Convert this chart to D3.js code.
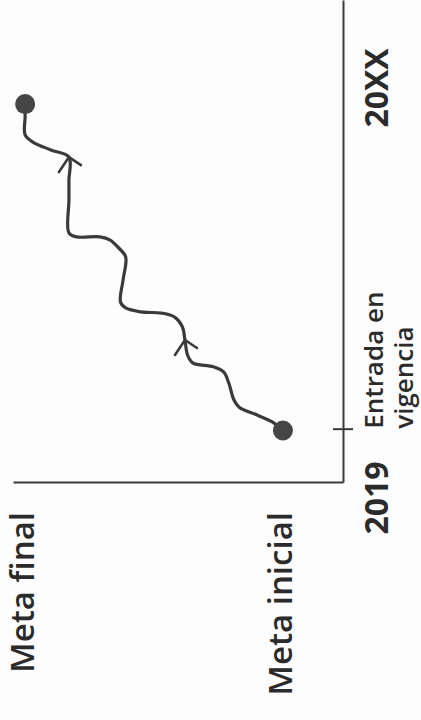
<!DOCTYPE html>
<html>
<head>
<meta charset="utf-8">
<script src="https://cdn.jsdelivr.net/npm/d3@7"></script>
<style>
  body { margin: 0; background: #fdfdfd; }
  text { font-family: "Open Sans", sans-serif; fill: #2b2b2b; }
</style>
</head>
<body>
<svg id="chart" width="421" height="720"></svg>
<script>
// trayectoria de la meta: periodo (eje tiempo) y avance (0 = meta inicial, 1 = meta final)
const periodo = [1.33, 1.54, 1.72, 1.92, 2.10, 2.53, 2.81, 2.94, 3.04, 3.24,
  3.62, 3.95, 4.20, 4.30, 4.33, 4.43, 4.58, 5.14, 5.72, 5.97,
  6.15, 6.23, 6.23, 6.33, 7.16, 7.67, 8.25, 8.43, 8.63, 8.81,
  9.27, 9.59];
const avance = [0, 0.04, 0.10, 0.17, 0.19, 0.21, 0.23, 0.27, 0.35, 0.37,
  0.38, 0.39, 0.42, 0.47, 0.55, 0.61, 0.63, 0.62, 0.61, 0.64,
  0.67, 0.71, 0.80, 0.83, 0.83, 0.83, 0.83, 0.90, 0.97, 1.0,
  1.0, 1.0];
const flechas = [10, 26]; // indices where the arrows sit

const tiempoLabels = ["2019", "20XX"];
const tiempoValores = [0, 10];
const metaLabels = ["Meta inicial", "Meta final"];
const metaValores = [0, 1];
const hitoLabel = ["Entrada en", "vigencia"];
const hitoValor = 1.35;

const W = 421, H = 720;
const svg = d3.select("#chart");

// the whole chart lies on its side: time runs upward, meta runs to the left
const g = svg.append("g").attr("transform", `translate(0,${H}) rotate(-90)`);

let x = d3.scaleLinear().domain([0, 12.2]).range([237, 719]);
let y = d3.scaleLinear().domain([-0.233, 1.047]).range([343, 13]);

const ink = "#3a3a3a";

// time axis with the "entrada en vigencia" tick
const xAxis = g.append("g")
  .attr("transform", "translate(0," + y.range()[0] + ")")
  .call(d3.axisBottom(x).tickValues([hitoValor]).tickFormat("").tickSizeOuter(0));
xAxis.selectAll(".tick line").attr("y1", -10).attr("y2", 10);

// meta axis
const yAxis = g.append("g")
  .attr("transform", "translate(" + x(0) + ",0)")
  .call(d3.axisLeft(y).tickValues([]).tickSizeOuter(0));

g.selectAll(".domain, .tick line").attr("stroke", ink).attr("stroke-width", 2);

// time labels
g.selectAll(".tlabel")
  .data(tiempoLabels)
  .enter()
  .append("text")
  .attr("class", "tlabel")
  .attr("x", (d, i) => x(tiempoValores[i]) - (i === 0 ? 15 : 0))
  .attr("y", 388)
  .attr("text-anchor", "middle")
  .style("font-size", "32px")
  .style("font-weight", 700)
  .text((d) => d);

// meta labels
g.selectAll(".mlabel")
  .data(metaLabels)
  .enter()
  .append("text")
  .attr("class", "mlabel")
  .attr("x", x(0) - 29)
  .attr("y", (d, i) => y(metaValores[i]) + 9)
  .attr("text-anchor", "end")
  .style("font-size", "33px")
  .style("font-weight", 600)
  .text((d) => d);

// hito label, two lines
g.selectAll(".hlabel")
  .data(hitoLabel)
  .enter()
  .append("text")
  .attr("class", "hlabel")
  .attr("x", x(hitoValor) + 1)
  .attr("y", (d, i) => 383 + i * 30)
  .style("font-size", "26px")
  .style("font-weight", 600)
  .text((d) => d);

// the path
const puntos = periodo.map((t, i) => ({ t: t, m: avance[i] }));
const line = d3.line()
  .x((d) => x(d.t))
  .y((d) => y(d.m))
  .curve(d3.curveCatmullRom.alpha(0.5));

g.append("path")
  .datum(puntos)
  .attr("d", line)
  .attr("fill", "none")
  .attr("stroke", ink)
  .attr("stroke-width", 3.2)
  .attr("stroke-linejoin", "round")
  .attr("stroke-linecap", "round");

// arrowheads pointing forward in time
g.selectAll(".flecha")
  .data(flechas)
  .enter()
  .append("path")
  .attr("class", "flecha")
  .attr("d", function (i) {
    const px = x(periodo[i]), py = y(avance[i]);
    return `M${px - 15},${py - 10}L${px},${py}L${px - 8},${py + 12}`;
  })
  .attr("fill", "none")
  .attr("stroke", ink)
  .attr("stroke-width", 2.6)
  .attr("stroke-linecap", "round");

// start and end dots
g.selectAll(".punto")
  .data([puntos[0], puntos[puntos.length - 1]])
  .enter()
  .append("circle")
  .attr("class", "punto")
  .attr("cx", (d) => x(d.t))
  .attr("cy", (d) => y(d.m))
  .attr("r", 10)
  .attr("fill", "#454545");
</script>
</body>
</html>
